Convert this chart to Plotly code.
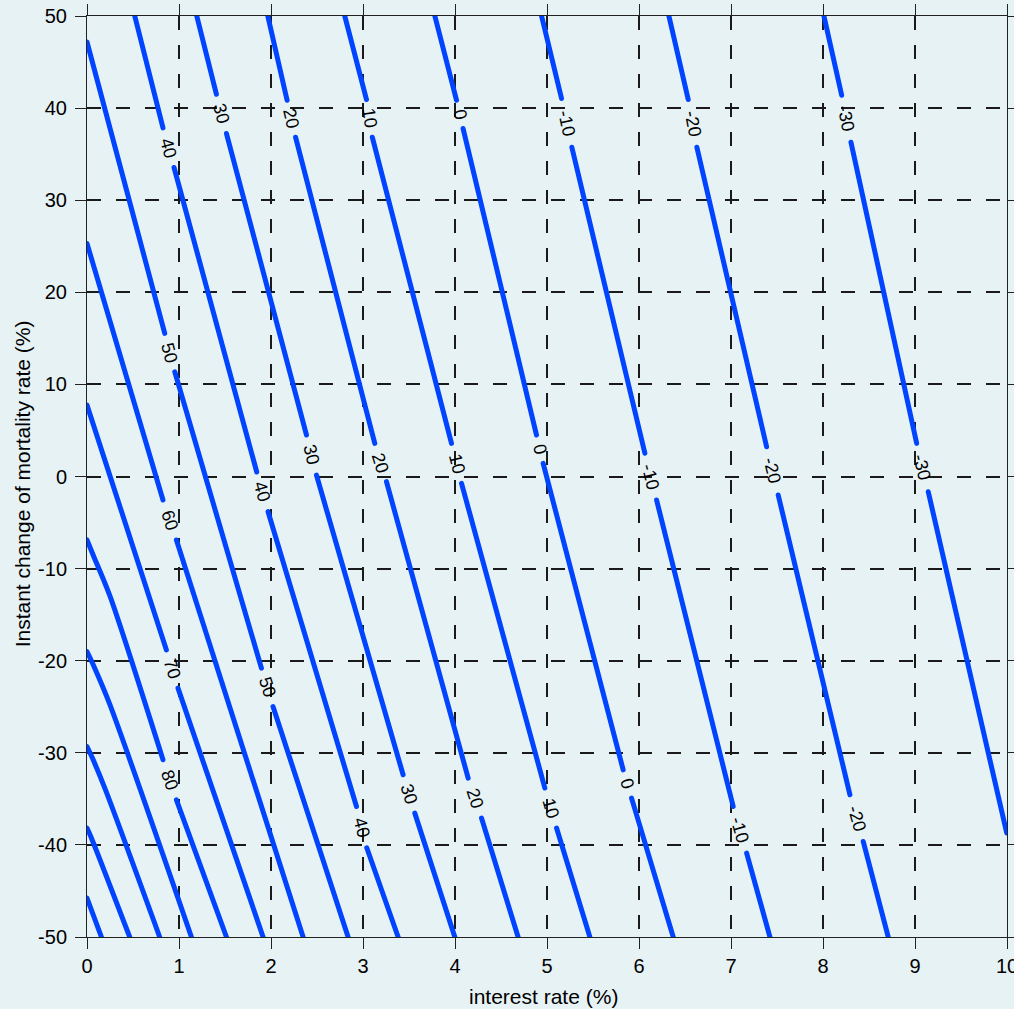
import math
import plotly.graph_objects as go

# ---------------- data ----------------
x_ticks = [0, 1, 2, 3, 4, 5, 6, 7, 8, 9, 10]
y_ticks = [-50, -40, -30, -20, -10, 0, 10, 20, 30, 40, 50]
x_title = "interest rate (%)"
y_title = "Instant change of mortality rate (%)"

# Each contour line: x (interest rate %) and y (mortality change %) points.
# None marks a gap in the line where the inline level label sits.
c_m30_x = [8.010, 8.203, None, 8.304, 9.018, None, 9.144, 9.997]
c_m30_y = [50.0, 41.40, None, 36.30, 3.60, None, -1.65, -38.71]

c_m20_x = [6.325, 6.535, None, 6.629, 7.387, None, 7.513, 8.293, None, 8.437, 8.709]
c_m20_y = [50.0, 40.93, None, 35.75, 3.23, None, -2.01, -34.56, None, -39.63, -50.0]

c_m10_x = [4.941, 5.158, None, 5.270, 6.064, None, 6.191, 7.024, None, 7.170, 7.423]
c_m10_y = [50.0, 41.04, None, 35.75, 2.52, None, -2.55, -35.83, None, -40.89, -50.0]

c_0_x = [3.781, 4.017, None, 4.088, 4.886, None, 4.958, 5.828, None, 5.919, 6.372]
c_0_y = [50.0, 40.85, None, 37.78, 4.50, None, 1.43, -31.85, None, -34.92, -50.0]

c_10_x = [2.802, 3.038, None, 3.101, 3.962, None, 4.071, 4.977, None, 5.104, 5.466]
c_10_y = [50.0, 40.93, None, 36.84, 3.60, None, -0.74, -33.83, None, -38.17, -50.0]

c_20_x = [1.965, 2.175, None, 2.267, 3.128, None, 3.255, 4.143, None, 4.288, 4.686]
c_20_y = [50.0, 40.85, None, 36.84, 3.60, None, -0.56, -32.75, None, -37.09, -50.0]

c_30_x = [1.193, 1.407, None, 1.516, 2.386, None, 2.494, 3.436, None, 3.563, 3.998]
c_30_y = [50.0, 41.50, None, 37.24, 4.50, None, 0.16, -32.39, None, -36.55, -50.0]

c_40_x = [0.519, 0.826, None, 0.946, 1.845, None, 1.968, 2.929, None, 3.041, 3.382]
c_40_y = [50.0, 37.85, None, 33.55, 0.49, None, -3.82, -35.83, None, -40.31, -50.0]

c_50_x = [0.0, 0.845, None, 0.954, 1.896, None, 2.022, 2.838]
c_50_y = [47.18, 15.54, None, 11.37, -20.81, None, -24.98, -50.0]

c_60_x = [0.0, 0.826, None, 0.972, 2.349]
c_60_y = [25.30, -2.55, None, -6.89, -50.0]

c_70_x = [0.0, 0.863, None, 0.989, 1.914]
c_70_y = [7.76, -18.83, None, -22.98, -50.0]

c_80_x = [0.0, 0.07, 0.25, 0.826, None, 0.972, 1.516]
c_80_y = [-6.89, -8.6, -13.0, -30.76, None, -35.10, -50.0]

c_90_x = [0.0, 0.07, 0.25, 1.135]
c_90_y = [-19.01, -20.5, -24.8, -50.0]

c_100_x = [0.0, 0.06, 0.20, 0.790]
c_100_y = [-29.32, -30.6, -34.0, -50.0]

c_110_x = [0.0, 0.05, 0.464]
c_110_y = [-38.17, -39.3, -50.0]

c_120_x = [0.0, 0.157]
c_120_y = [-45.77, -50.0]

contours = [
    (-30, c_m30_x, c_m30_y), (-20, c_m20_x, c_m20_y), (-10, c_m10_x, c_m10_y),
    (0, c_0_x, c_0_y), (10, c_10_x, c_10_y), (20, c_20_x, c_20_y),
    (30, c_30_x, c_30_y), (40, c_40_x, c_40_y), (50, c_50_x, c_50_y),
    (60, c_60_x, c_60_y), (70, c_70_x, c_70_y), (80, c_80_x, c_80_y),
    (90, c_90_x, c_90_y), (100, c_100_x, c_100_y), (110, c_110_x, c_110_y),
    (120, c_120_x, c_120_y),
]

# ---------------- styling ----------------
W, H = 1014, 1009
M_L, M_R, M_T, M_B = 87, 7, 16, 72
X_RANGE = [0, 10]
Y_RANGE = [-50, 50]
BG = "#E7F2F5"
LINE_BLUE = "#0044FF"
FONT = "Liberation Sans, Arial, Helvetica, sans-serif"

px_per_x = (W - M_L - M_R) / (X_RANGE[1] - X_RANGE[0])
px_per_y = (H - M_T - M_B) / (Y_RANGE[1] - Y_RANGE[0])

fig = go.Figure()
annotations = []
for level, xs, ys in contours:
    fig.add_trace(go.Scatter(
        x=xs, y=ys, mode="lines", connectgaps=False,
        line=dict(color=LINE_BLUE, width=5, shape="spline", smoothing=0.8),
        hoverinfo="skip", showlegend=False,
    ))
    # inline label in the middle of every gap, rotated along the line
    for i, v in enumerate(xs):
        if v is None:
            x1, y1 = xs[i - 1], ys[i - 1]
            x2, y2 = xs[i + 1], ys[i + 1]
            dxp = (x2 - x1) * px_per_x
            dyp = -(y2 - y1) * px_per_y
            ang = math.degrees(math.atan2(dyp, dxp))
            if ang > 90:
                ang -= 180
            elif ang < -90:
                ang += 180
            annotations.append(dict(
                x=(x1 + x2) / 2, y=(y1 + y2) / 2, xref="x", yref="y",
                text=str(level), showarrow=False, textangle=ang,
                xanchor="center", yanchor="middle",
                font=dict(size=18, color="black", family=FONT),
            ))

# axis titles (placed as in the reference)
annotations.append(dict(
    text=x_title, xref="paper", yref="paper", x=0.4957, y=-0.0651,
    xanchor="center", yanchor="middle", showarrow=False,
    font=dict(size=21, color="black", family=FONT),
))
annotations.append(dict(
    text=y_title, xref="paper", yref="paper", x=-0.0707, y=0.4925,
    xanchor="center", yanchor="middle", showarrow=False, textangle=-90,
    font=dict(size=21, color="black", family=FONT),
))

axis_common = dict(
    ticks="outside", ticklen=11, tickwidth=1, tickcolor="#222222",
    showline=True, linecolor="#222222", linewidth=1, mirror="ticks",
    showgrid=True, gridcolor="#1a1a1a", gridwidth=1.5, griddash="14px,15px",
    zeroline=False, automargin=False, ticklabeloverflow="allow",
    tickfont=dict(size=20, color="black", family=FONT),
)

fig.update_xaxes(
    range=X_RANGE, tickvals=x_ticks, ticktext=[str(t) for t in x_ticks],
    **axis_common,
)
fig.update_yaxes(
    range=Y_RANGE, tickvals=y_ticks, ticktext=[str(t) for t in y_ticks],
    ticklabelstandoff=4,
    **axis_common,
)

fig.update_layout(
    width=W, height=H,
    margin=dict(l=M_L, r=M_R, t=M_T, b=M_B, pad=0),
    paper_bgcolor=BG, plot_bgcolor=BG,
    font=dict(family=FONT, color="black"),
    annotations=annotations,
)

fig.write_html(
    "out.html",
    config={"displayModeBar": False},
    post_script=(
        "document.body.style.margin='0';document.body.style.overflow='hidden';"
        "document.querySelectorAll('.scatterlayer path.js-line').forEach(function(p){"
        "p.style.strokeLinecap='round';p.style.strokeLinejoin='round';});"
    ),
)
